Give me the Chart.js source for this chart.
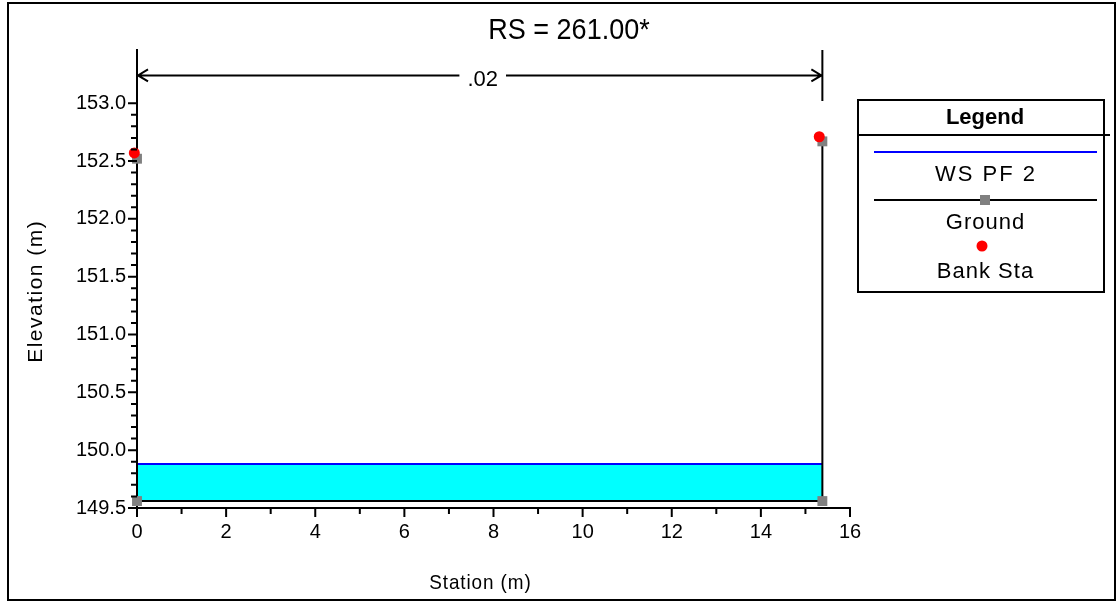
<!DOCTYPE html>
<html>
<head>
<meta charset="utf-8">
<script src="https://cdn.jsdelivr.net/npm/chart.js@4.4.1/dist/chart.umd.min.js"></script>
<style>
  html, body { margin: 0; padding: 0; background: #fff; }
  #wrap { width: 1120px; height: 604px; position: relative; }
</style>
</head>
<body>
<div id="wrap"><canvas id="xsec" width="1120" height="604"></canvas></div>
<script>
// cross section RS 261.00
const sectionTitle = 'RS = 261.00*';
const manningN = '.02';

const groundSta = [0, 0, 15.38, 15.38];
const groundElev = [152.52, 149.56, 149.56, 152.67];

const bankSta = [-0.06, 15.31];
const bankElev = [152.57, 152.71];

const wsSta = [0, 15.38];
const wsElev = [149.88, 149.88];

const xTicks = [0, 2, 4, 6, 8, 10, 12, 14, 16];
const yTicks = [149.5, 150.0, 150.5, 151.0, 151.5, 152.0, 152.5, 153.0];

const FONT = '"Liberation Sans", Arial, sans-serif';

function pts(xs, ys) {
    return xs.map((x, i) => ({ x: x, y: ys[i] }));
}

function spaced(ctx, text, x, y, spacing) {
    ctx.letterSpacing = spacing + 'px';
    ctx.fillText(text, x + spacing / 2, y);
    ctx.letterSpacing = '0px';
}

// frame, title, n-value bracket, minor ticks, legend box
const decorations = {
    id: 'decorations',
    afterDraw(chart) {
        const ctx = chart.ctx;
        const xs = chart.scales.x;
        const ys = chart.scales.y;
        const area = chart.chartArea;

        ctx.save();
        ctx.strokeStyle = '#000';
        ctx.lineWidth = 2;
        ctx.strokeRect(8, 3, 1107, 597);

        // title, slightly condensed
        ctx.fillStyle = '#000';
        ctx.textAlign = 'center';
        ctx.textBaseline = 'middle';
        ctx.save();
        ctx.translate(569, 31);
        ctx.scale(0.9, 1);
        ctx.font = '30px ' + FONT;
        ctx.fillText(sectionTitle, 0, 0);
        ctx.restore();

        // ticks on both axes
        ctx.lineWidth = 2;
        ctx.beginPath();
        for (let v = 0; v <= 16; v++) {
            const px = xs.getPixelForValue(v);
            const len = v % 2 === 0 ? 9 : 6;
            ctx.moveTo(px, area.bottom);
            ctx.lineTo(px, area.bottom + len);
        }
        for (let i = 0; i <= 35; i++) {
            const v = 149.5 + i * 0.1;
            const py = ys.getPixelForValue(v);
            const len = i % 5 === 0 ? 9 : 6;
            ctx.moveTo(area.left, py);
            ctx.lineTo(area.left - len, py);
        }
        ctx.stroke();

        // n-value bracket between the ends of the section
        const xl = xs.getPixelForValue(groundSta[0]);
        const xr = xs.getPixelForValue(groundSta[groundSta.length - 1]);
        const ya = ys.getPixelForValue(153.24);
        ctx.font = '22px ' + FONT;
        const tw = ctx.measureText(manningN).width;
        const xm = (xl + xr) / 2 + 3;
        ctx.beginPath();
        ctx.moveTo(xl, ya); ctx.lineTo(xm - tw / 2 - 8, ya);
        ctx.moveTo(xm + tw / 2 + 8, ya); ctx.lineTo(xr, ya);
        ctx.moveTo(xl + 11, ya - 6); ctx.lineTo(xl + 1, ya); ctx.lineTo(xl + 11, ya + 6);
        ctx.moveTo(xr - 11, ya - 6); ctx.lineTo(xr - 1, ya); ctx.lineTo(xr - 11, ya + 6);
        ctx.moveTo(xr, area.top); ctx.lineTo(xr, ys.getPixelForValue(153.02));
        ctx.stroke();
        ctx.fillText(manningN, xm, ya + 4);

        // axis titles
        ctx.save();
        ctx.translate(480, 583);
        ctx.scale(0.9, 1);
        ctx.font = '21px ' + FONT;
        spaced(ctx, 'Station (m)', 0, 0, 1);
        ctx.restore();
        ctx.save();
        ctx.translate(36, 292);
        ctx.rotate(-Math.PI / 2);
        ctx.font = '21px ' + FONT;
        spaced(ctx, 'Elevation (m)', 0, 0, 1.5);
        ctx.restore();

        // legend
        ctx.lineWidth = 2;
        ctx.strokeRect(858, 100, 246, 192);
        ctx.beginPath();
        ctx.moveTo(858, 135); ctx.lineTo(1110, 135);
        ctx.stroke();
        ctx.font = 'bold 22px ' + FONT;
        ctx.fillText('Legend', 985, 118);

        ctx.strokeStyle = '#0000ff';
        ctx.beginPath(); ctx.moveTo(874, 152); ctx.lineTo(1097, 152); ctx.stroke();
        ctx.font = '22px ' + FONT;
        spaced(ctx, 'WS PF 2', 985, 175, 2);

        ctx.strokeStyle = '#000';
        ctx.beginPath(); ctx.moveTo(874, 200); ctx.lineTo(1097, 200); ctx.stroke();
        ctx.fillStyle = '#808080';
        ctx.fillRect(980, 195, 10, 10);
        ctx.fillStyle = '#000';
        spaced(ctx, 'Ground', 985, 223, 1);

        ctx.fillStyle = '#ff0000';
        ctx.beginPath(); ctx.arc(982, 246, 5.5, 0, Math.PI * 2); ctx.fill();
        ctx.fillStyle = '#000';
        spaced(ctx, 'Bank Sta', 985, 272, 1);
        ctx.restore();
    }
};

new Chart(document.getElementById('xsec'), {
    type: 'scatter',
    data: {
        datasets: [
            {
                label: 'Bank Sta',
                data: pts(bankSta, bankElev),
                showLine: false,
                clip: false,
                pointStyle: 'circle',
                pointRadius: 5.5,
                backgroundColor: '#ff0000',
                borderWidth: 0,
                order: 0
            },
            {
                label: 'Ground',
                data: pts(groundSta, groundElev),
                showLine: true,
                clip: false,
                borderColor: '#000000',
                borderWidth: 2,
                pointStyle: 'rect',
                pointRadius: 7,
                pointBackgroundColor: '#808080',
                pointBorderWidth: 0,
                order: 1
            },
            {
                label: 'WS PF 2',
                data: pts(wsSta, wsElev),
                showLine: true,
                borderColor: '#0000ff',
                borderWidth: 2,
                pointRadius: 0,
                backgroundColor: '#00ffff',
                fill: { value: groundElev[1] },
                order: 2
            }
        ]
    },
    options: {
        responsive: false,
        animation: false,
        layout: { padding: { top: 50, right: 270, left: 0, bottom: 0 } },
        plugins: {
            legend: { display: false },
            tooltip: { enabled: false }
        },
        scales: {
            x: {
                type: 'linear',
                min: 0,
                max: 16,
                afterFit(s) { s.height = 96; },
                afterBuildTicks(s) { s.ticks = xTicks.map(v => ({ value: v })); },
                grid: { display: false, drawTicks: false },
                border: { display: true, color: '#000', width: 2 },
                ticks: {
                    color: '#000',
                    padding: 12,
                    font: { family: FONT, size: 20 },
                    callback: v => String(v)
                }
            },
            y: {
                type: 'linear',
                min: 149.5,
                max: 153.46,
                afterFit(s) { s.width = 137; },
                afterBuildTicks(s) { s.ticks = yTicks.map(v => ({ value: v })); },
                grid: { display: false, drawTicks: false },
                border: { display: true, color: '#000', width: 2 },
                ticks: {
                    color: '#000',
                    padding: 11,
                    font: { family: FONT, size: 20 },
                    callback: v => v.toFixed(1)
                }
            }
        }
    },
    plugins: [decorations]
});
</script>
</body>
</html>
